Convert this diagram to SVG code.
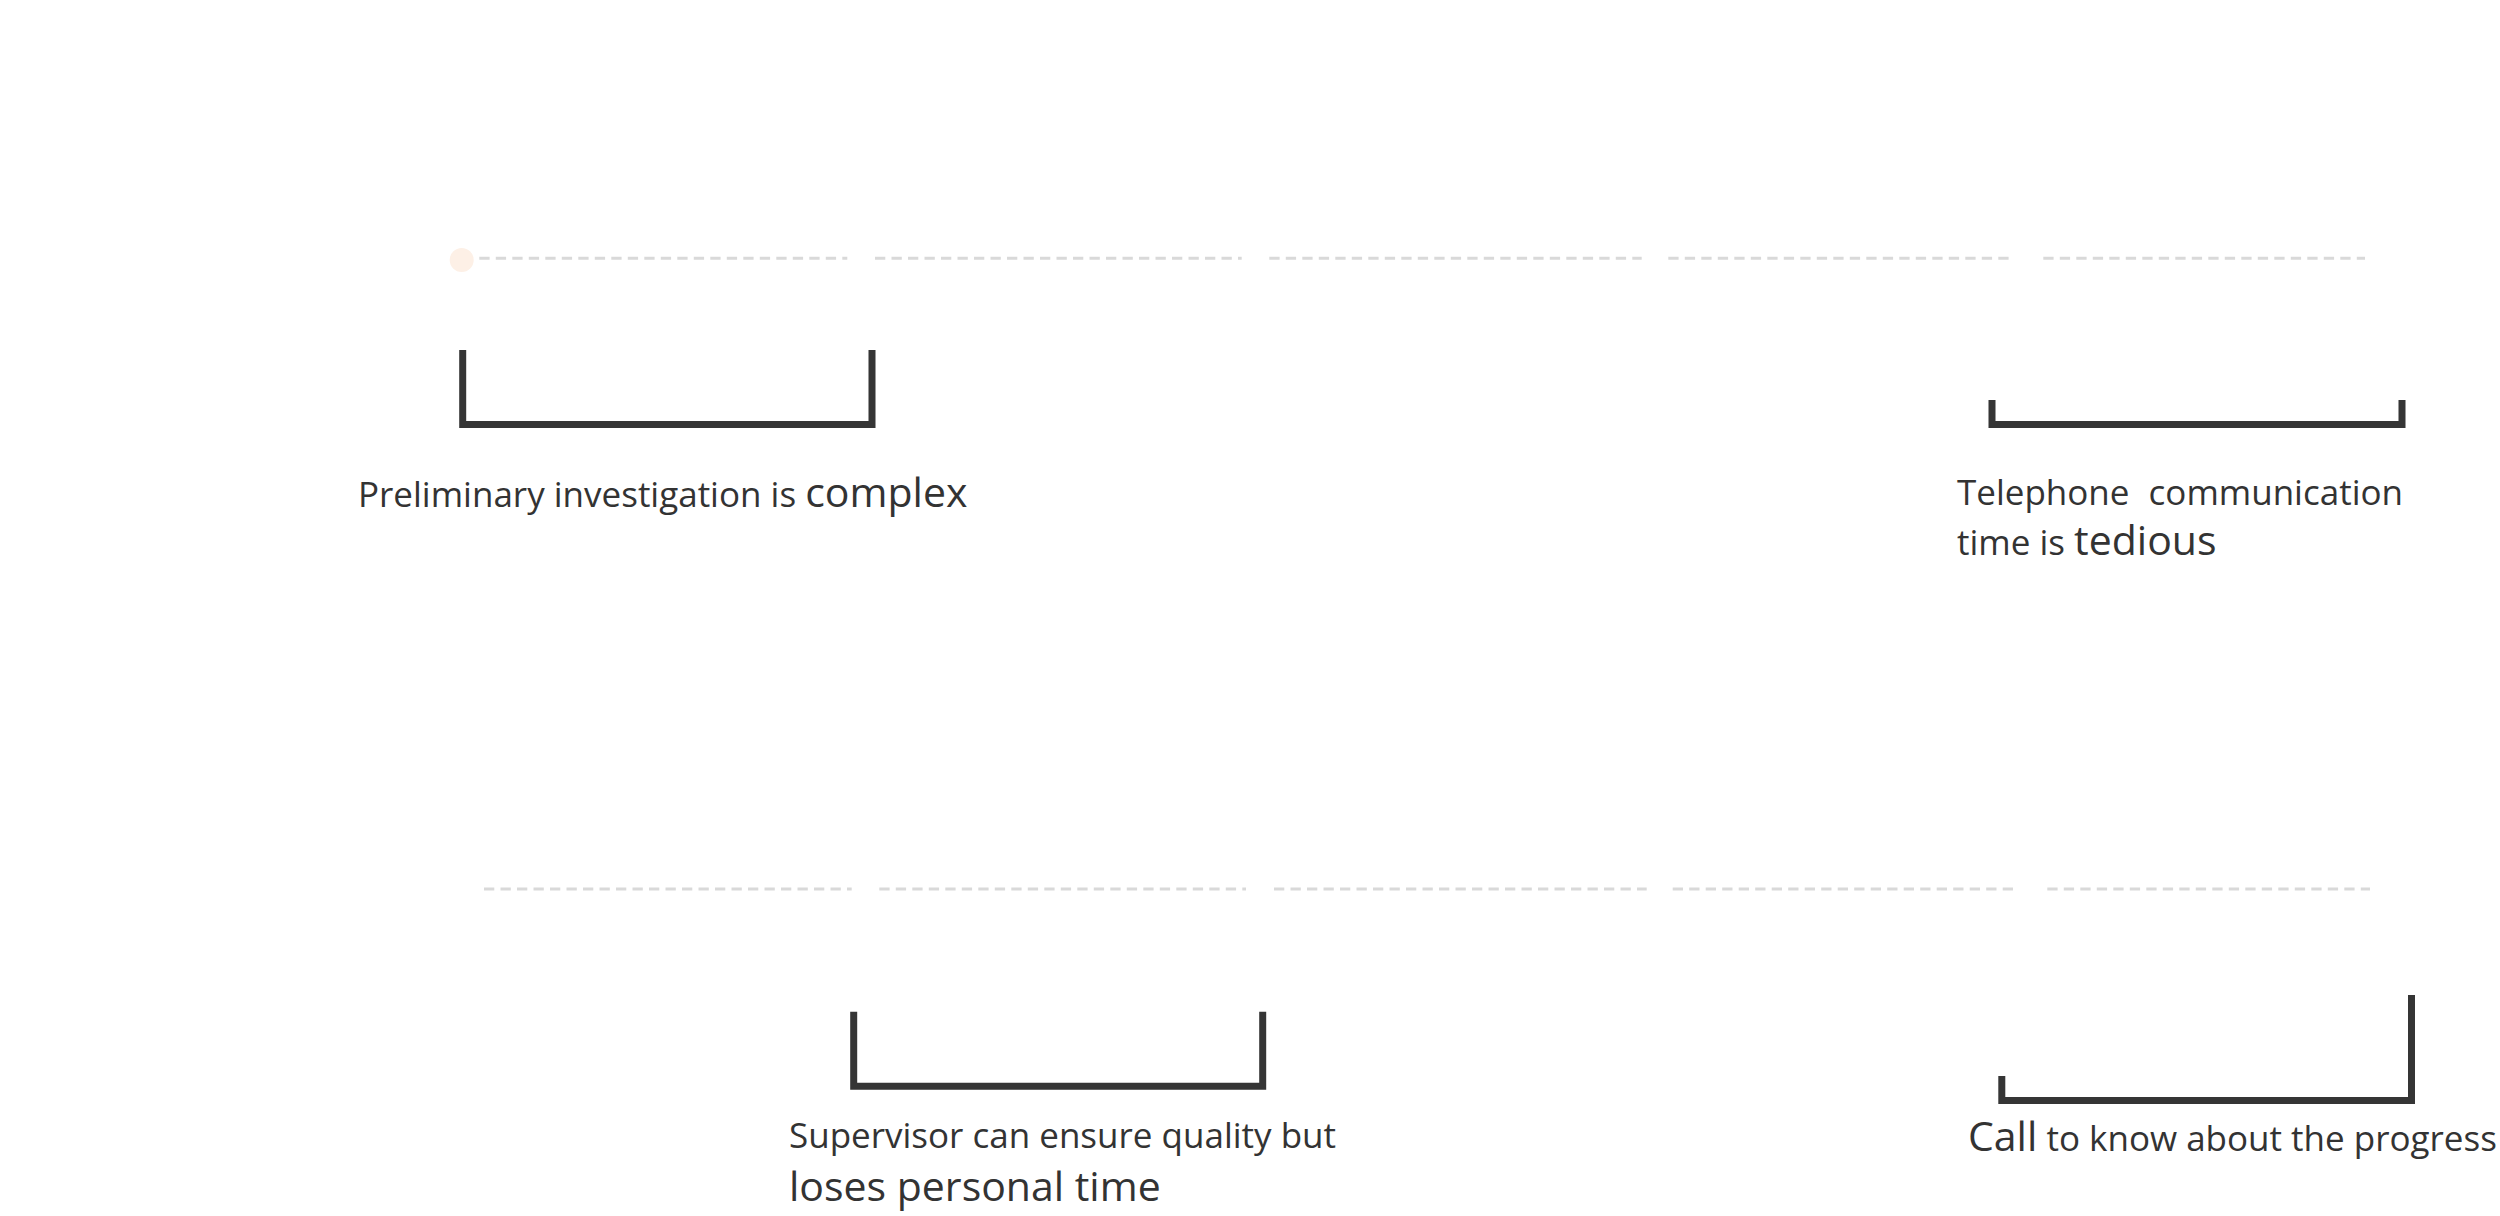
<svg xmlns="http://www.w3.org/2000/svg" width="2500" height="1216" viewBox="0 0 2500 1216">
<style>
.dash{stroke:#d9d9d9;stroke-width:3;stroke-dasharray:10.3 6.2;fill:none}
.br{stroke:#353535;stroke-width:7;fill:none;stroke-linecap:butt;stroke-linejoin:miter}
.t{font-family:"Open Sans","Noto Sans",sans-serif;font-size:35px;fill:#333333}
.big{font-size:41px}
</style>
<rect width="2500" height="1216" fill="#ffffff"/>
<g id="connectors">
<line class="dash" x1="479.3" y1="258.3" x2="847.3" y2="258.3"/>
<line class="dash" x1="875" y1="258.3" x2="1241.7" y2="258.3"/>
<line class="dash" x1="1269.3" y1="258.3" x2="1641.7" y2="258.3"/>
<line class="dash" x1="1668.3" y1="258.3" x2="2012.7" y2="258.3"/>
<line class="dash" x1="2043.3" y1="258.3" x2="2365" y2="258.3"/>
<line class="dash" x1="484" y1="889" x2="851.7" y2="889"/>
<line class="dash" x1="879.3" y1="889" x2="1246" y2="889"/>
<line class="dash" x1="1274" y1="889" x2="1646.7" y2="889"/>
<line class="dash" x1="1672.7" y1="889" x2="2017.3" y2="889"/>
<line class="dash" x1="2047.3" y1="889" x2="2370" y2="889"/>
</g>
<g id="start-dot">
<circle cx="461.7" cy="260" r="12" fill="#fdf0e6"/>
</g>
<g id="node-preliminary">
<path class="br" d="M462.7,350 V424.5 H872 V350"/>
<text class="t" x="358" y="507">Preliminary investigation is <tspan class="big">complex</tspan></text>
</g>
<g id="node-telephone">
<path class="br" d="M1992,400 V424.5 H2402 V400"/>
<text class="t" x="1957" y="505" word-spacing="10">Telephone communication</text>
<text class="t" x="1957" y="555">time is <tspan class="big">tedious</tspan></text>
</g>
<g id="node-supervisor">
<path class="br" d="M853.7,1011.7 V1086.3 H1262.7 V1011.7"/>
<text class="t" x="789" y="1148">Supervisor can ensure quality but</text>
<text class="t big" x="789" y="1201">loses personal time</text>
</g>
<g id="node-call">
<path class="br" d="M2001.8,1076 V1100.5 H2411.5 V995"/>
<text class="t" x="1968" y="1151"><tspan class="big">Call</tspan> to know about the progress</text>
</g>
</svg>
